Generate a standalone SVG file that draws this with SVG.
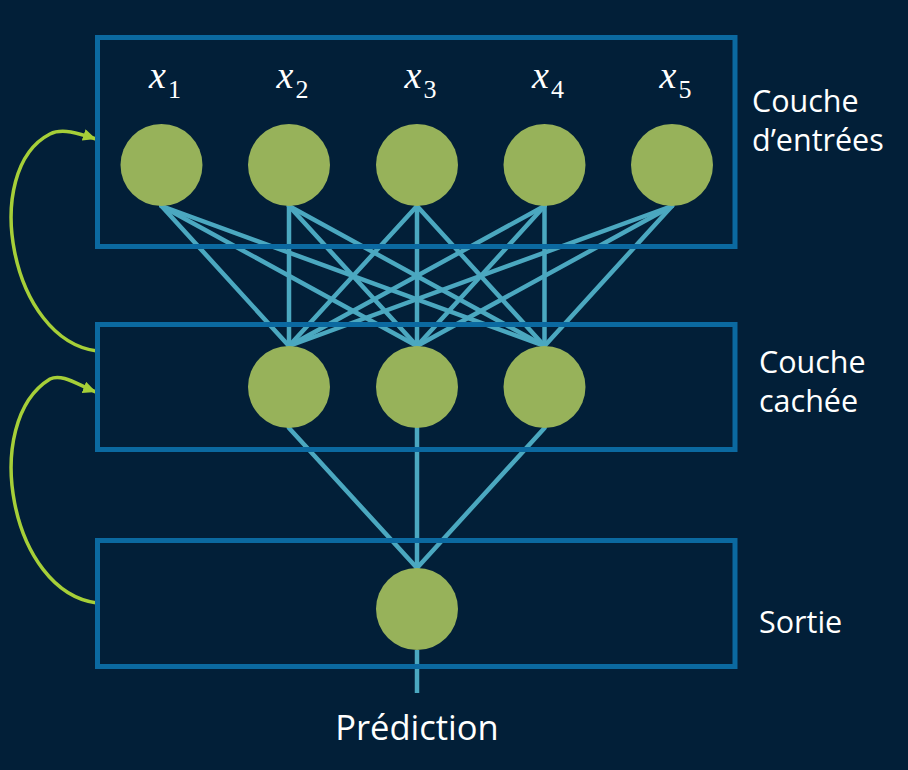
<svg xmlns="http://www.w3.org/2000/svg" width="908" height="770" viewBox="0 0 908 770">
<defs>
<style>
.bg{fill:#021f38}
.box{fill:none;stroke:#0b69a0;stroke-width:5}
.n{fill:#97b25a}
.c{stroke:#4ba8c0;stroke-width:4.5;stroke-linecap:round}
.fb{fill:none;stroke:#a6cf38;stroke-width:3.5}
.lbl{font-family:"Open Sans","Noto Sans",sans-serif;font-size:30.5px;fill:#ffffff}
.var{font-family:"Liberation Serif",serif;font-style:italic;font-size:38px;fill:#ffffff}
.sub{font-family:"Liberation Serif",serif;font-style:normal;font-size:26px}
</style>
<marker id="ah" markerUnits="userSpaceOnUse" markerWidth="16" markerHeight="14" refX="13" refY="6" orient="auto">
<path d="M0,0 L13,6 L0,12 Z" fill="#a6cf38"/>
</marker>
</defs>
<rect class="bg" x="0" y="0" width="908" height="770"/>

<g id="connectors">
<line class="c" x1="161.5" y1="206" x2="289" y2="346"/>
<line class="c" x1="161.5" y1="206" x2="417" y2="346"/>
<line class="c" x1="161.5" y1="206" x2="544.5" y2="346"/>
<line class="c" x1="289" y1="206" x2="289" y2="346"/>
<line class="c" x1="289" y1="206" x2="417" y2="346"/>
<line class="c" x1="289" y1="206" x2="544.5" y2="346"/>
<line class="c" x1="417" y1="206" x2="289" y2="346"/>
<line class="c" x1="417" y1="206" x2="417" y2="346"/>
<line class="c" x1="417" y1="206" x2="544.5" y2="346"/>
<line class="c" x1="544.5" y1="206" x2="289" y2="346"/>
<line class="c" x1="544.5" y1="206" x2="417" y2="346"/>
<line class="c" x1="544.5" y1="206" x2="544.5" y2="346"/>
<line class="c" x1="672" y1="206" x2="289" y2="346"/>
<line class="c" x1="672" y1="206" x2="417" y2="346"/>
<line class="c" x1="672" y1="206" x2="544.5" y2="346"/>
<line class="c" x1="289" y1="428" x2="417" y2="568"/>
<line class="c" x1="417" y1="428" x2="417" y2="568"/>
<line class="c" x1="544.5" y1="428" x2="417" y2="568"/>
<line class="c" x1="417" y1="650" x2="417" y2="693" style="stroke-linecap:butt"/>
<path class="fb" d="M97,351 C10,340 -20,170 50,134 C62,128 78,133 96,139" marker-end="url(#ah)"/>
<path class="fb" d="M97,603 C10,592 -20,422 50,379 C62,373 78,385 96,392" marker-end="url(#ah)"/>
</g>

<g id="layer-input">
<rect class="box" x="97.5" y="37.5" width="637.5" height="209"/>
<text class="lbl" x="752" y="112">Couche</text>
<text class="lbl" x="752" y="151">d’entrées</text>
</g>
<g id="layer-hidden">
<rect class="box" x="97.5" y="324.5" width="637.5" height="125"/>
<text class="lbl" x="759" y="373">Couche</text>
<text class="lbl" x="759" y="412">cachée</text>
</g>
<g id="layer-output">
<rect class="box" x="97.5" y="540.5" width="637.5" height="126"/>
<text class="lbl" x="759" y="633">Sortie</text>
</g>

<g id="x1"><circle class="n" cx="161.5" cy="165" r="41"/><text class="var" x="149" y="88">x<tspan class="sub" dx="2" dy="10">1</tspan></text></g>
<g id="x2"><circle class="n" cx="289" cy="165" r="41"/><text class="var" x="276.5" y="88">x<tspan class="sub" dx="2" dy="10">2</tspan></text></g>
<g id="x3"><circle class="n" cx="417" cy="165" r="41"/><text class="var" x="404.5" y="88">x<tspan class="sub" dx="2" dy="10">3</tspan></text></g>
<g id="x4"><circle class="n" cx="544.5" cy="165" r="41"/><text class="var" x="532" y="88">x<tspan class="sub" dx="2" dy="10">4</tspan></text></g>
<g id="x5"><circle class="n" cx="672" cy="165" r="41"/><text class="var" x="659.5" y="88">x<tspan class="sub" dx="2" dy="10">5</tspan></text></g>

<g id="h1"><circle class="n" cx="289" cy="387" r="41"/></g>
<g id="h2"><circle class="n" cx="417" cy="387" r="41"/></g>
<g id="h3"><circle class="n" cx="544.5" cy="387" r="41"/></g>

<g id="out"><circle class="n" cx="417" cy="609" r="41"/></g>

<g id="prediction"><text class="lbl" x="417" y="740" text-anchor="middle" style="font-size:34.5px">Prédiction</text></g>
</svg>
